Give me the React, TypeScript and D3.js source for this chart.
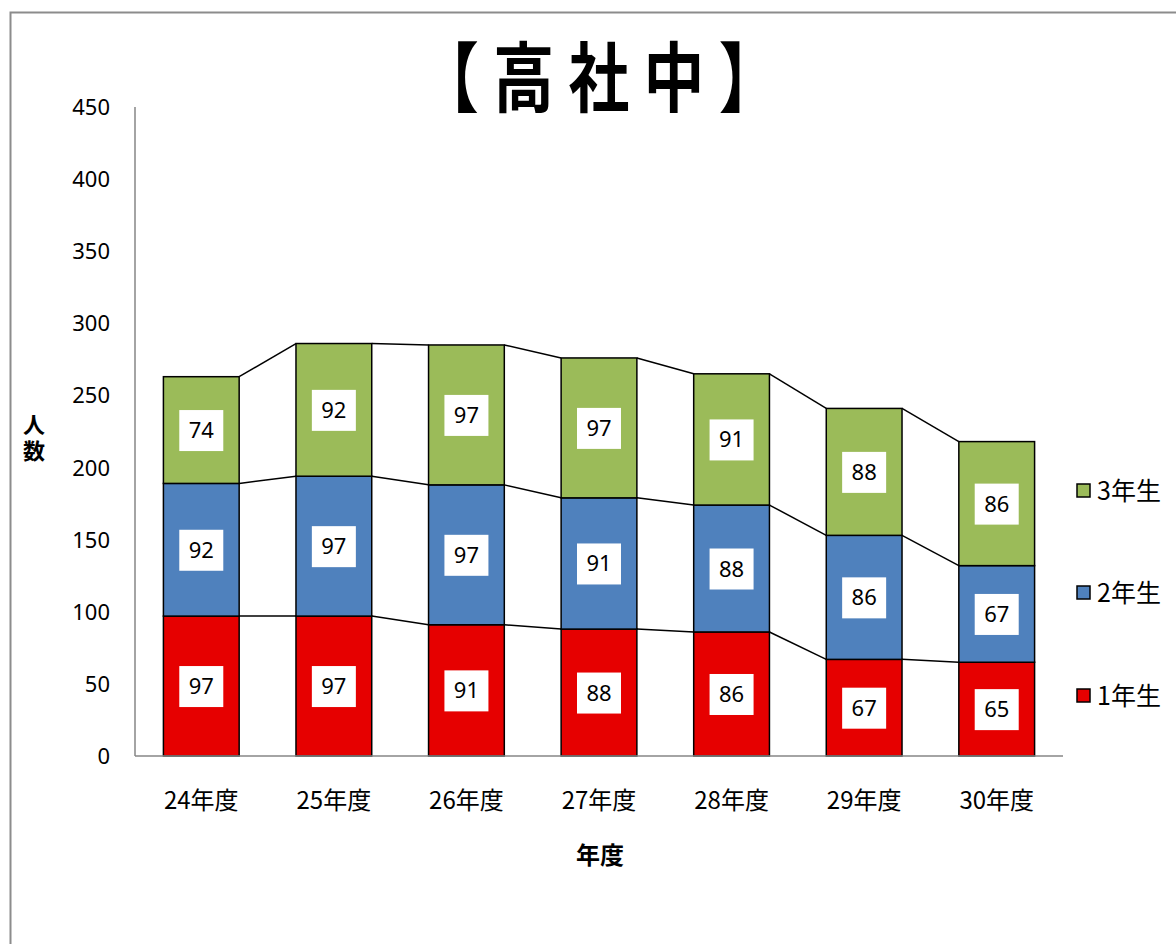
import React from "react";
import * as d3 from "d3";

const categories = ["24年度", "25年度", "26年度", "27年度", "28年度", "29年度", "30年度"];
const grade1 = [97, 97, 91, 88, 86, 67, 65];
const grade2 = [92, 97, 97, 91, 88, 86, 67];
const grade3 = [74, 92, 97, 97, 91, 88, 86];
const seriesNames = ["1年生", "2年生", "3年生"];
const seriesColors = ["#e60000", "#4f81bd", "#9bbb59"];
const yTicks = [0, 50, 100, 150, 200, 250, 300, 350, 400, 450];

const W = 1176;
const H = 944;
const plot = { left: 135, right: 1063, top: 107, bottom: 756 };
const numFont = "'Noto Sans', 'Open Sans', sans-serif";
const cjkFont = "'Noto Sans CJK JP', 'Noto Sans', sans-serif";

export default function App() {
  const x = d3
    .scaleBand<string>()
    .domain(categories)
    .range([plot.left, plot.right])
    .paddingInner(0.75 / 1.75)
    .paddingOuter(0.75 / 1.75 / 2);
  const y = d3.scaleLinear().domain([0, 450]).range([plot.bottom, plot.top]);

  const rows = categories.map((c, i) => ({ cat: c, g1: grade1[i], g2: grade2[i], g3: grade3[i] }));
  const stack = d3.stack<any>().keys(["g1", "g2", "g3"]);
  const layers = stack(rows);
  const bw = x.bandwidth();

  return (
    <svg width={W} height={H} style={{ position: "absolute", left: 0, top: 0, background: "#fff" }}>
      <rect x={10.5} y={12.5} width={1200} height={1000} fill="#fff" stroke="#8c8c8c" strokeWidth={2} />
      <g transform="translate(606,0) scale(0.8,1)">
        <text
          x={0}
          y={106}
          textAnchor="middle"
          fontFamily={cjkFont}
          fontWeight={600}
          fontSize={76}
          letterSpacing={18}
          fill="#000"
        >
          【高社中】
        </text>
      </g>

      {/* y ticks */}
      {yTicks.map((t) => (
        <text key={t} x={110} y={y(t) + 8} textAnchor="end" fontFamily={numFont} fontSize={22} fill="#000">
          {t}
        </text>
      ))}

      {/* series lines */}
      {layers.map((layer, li) =>
        layer.slice(0, -1).map((d, i) => {
          const x1 = (x(categories[i]) as number) + bw;
          const x2 = x(categories[i + 1]) as number;
          return (
            <line
              key={`sl-${li}-${i}`}
              x1={x1}
              y1={y(d[1])}
              x2={x2}
              y2={y(layer[i + 1][1])}
              stroke="#000"
              strokeWidth={1.5}
            />
          );
        })
      )}

      {/* bars */}
      {layers.map((layer, li) =>
        layer.map((d, i) => (
          <rect
            key={`b-${li}-${i}`}
            x={x(categories[i])}
            y={y(d[1])}
            width={bw}
            height={y(d[0]) - y(d[1])}
            fill={seriesColors[li]}
            stroke="#000"
            strokeWidth={1.5}
          />
        ))
      )}

      {/* axes */}
      <line x1={plot.left} y1={plot.top} x2={plot.left} y2={plot.bottom} stroke="#868686" strokeWidth={1.5} />
      <line x1={plot.left} y1={plot.bottom} x2={plot.right} y2={plot.bottom} stroke="#868686" strokeWidth={1.5} />

      {/* data labels */}
      {layers.map((layer, li) =>
        layer.map((d, i) => {
          const cx = (x(categories[i]) as number) + bw / 2;
          const cy = (y(d[0]) + y(d[1])) / 2;
          return (
            <g key={`l-${li}-${i}`}>
              <rect x={cx - 22} y={cy - 20} width={44} height={41} fill="#fff" />
              <text x={cx} y={cy + 8} textAnchor="middle" fontFamily={numFont} fontSize={22} fill="#000">
                {d[1] - d[0]}
              </text>
            </g>
          );
        })
      )}

      {/* category labels */}
      {categories.map((c) => (
        <text
          key={c}
          x={(x(c) as number) + bw / 2}
          y={809}
          textAnchor="middle"
          fontFamily={cjkFont}
          fontSize={24}
          fill="#000"
        >
          {c}
        </text>
      ))}

      {/* axis titles */}
      <text x={600} y={864} textAnchor="middle" fontFamily={cjkFont} fontWeight={700} fontSize={24} fill="#000">
        年度
      </text>
      <text
        x={34}
        y={414}
        style={{ writingMode: "vertical-rl" } as any}
        fontFamily={cjkFont}
        fontWeight={700}
        fontSize={22}
        letterSpacing={4}
        fill="#000"
      >
        人数
      </text>

      {/* legend */}
      {[2, 1, 0].map((si, k) => {
        const ly = [491, 593, 696][k];
        return (
          <g key={`lg-${si}`}>
            <rect x={1077} y={ly - 7} width={13} height={13} fill={seriesColors[si]} stroke="#000" strokeWidth={1.5} />
            <text x={1097} y={ly + 9} fontFamily={cjkFont} fontSize={25} fill="#000">
              {seriesNames[si]}
            </text>
          </g>
        );
      })}
    </svg>
  );
}
